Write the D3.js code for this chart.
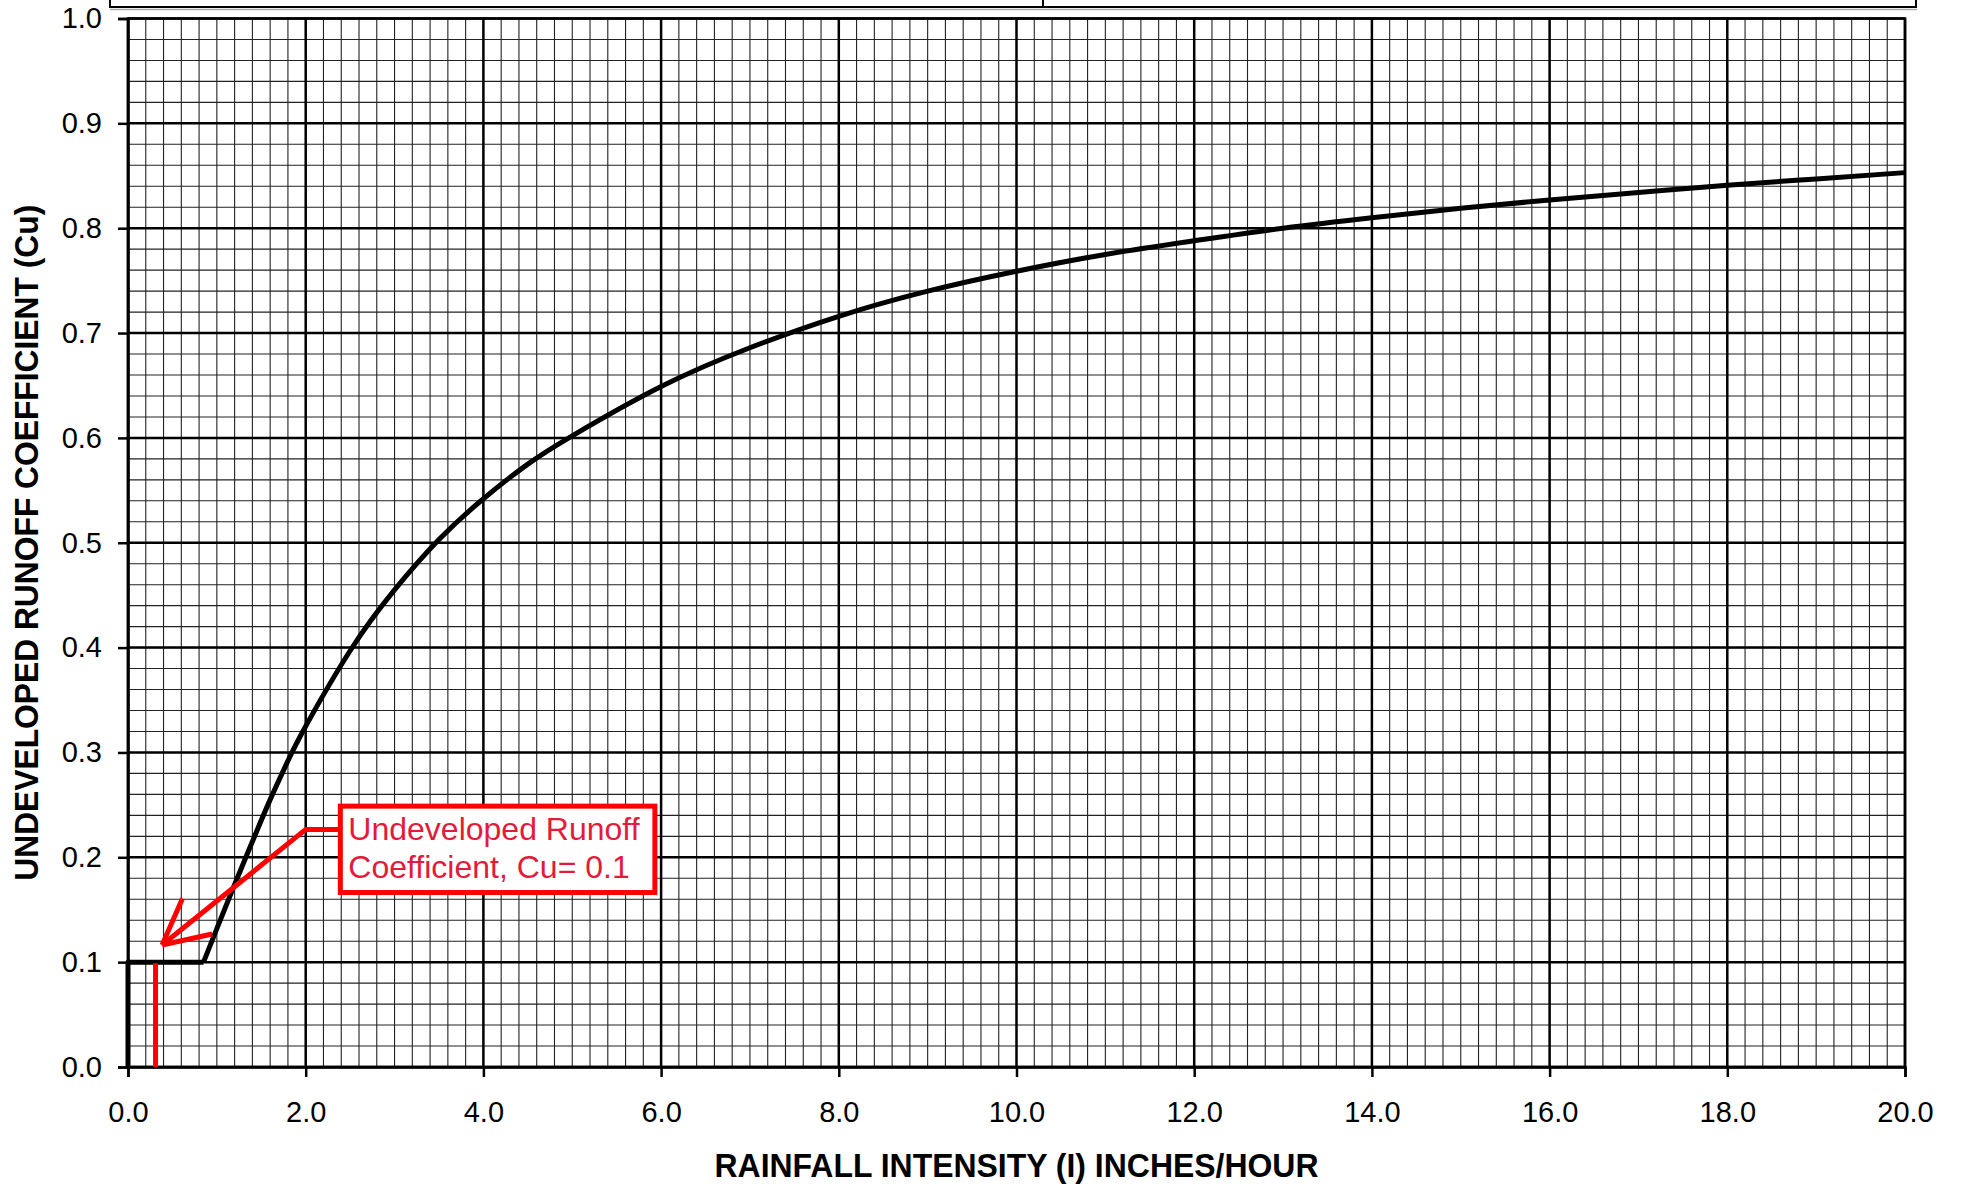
<!DOCTYPE html>
<html>
<head>
<meta charset="utf-8">
<script src="https://cdn.jsdelivr.net/npm/d3@7"></script>
<style>
  body { margin: 0; background: #fff; }
  svg { display: block; font-family: "Liberation Sans", Arial, sans-serif; }
</style>
</head>
<body>
<svg width="1961" height="1188"></svg>
<script>
// rainfall intensity (in/hr) vs undeveloped runoff coefficient
const intensity  = [0, 0, 0.85, 1.0, 1.2, 1.4, 1.6, 1.8, 2.0, 2.5, 3.0, 3.5, 4.0, 4.5, 5.0, 6.0, 7.0, 8.0, 9.0, 10.0, 11.0, 12.0, 13.0, 14.0, 15.0, 16.0, 17.0, 18.0, 19.0, 20.0];
const runoffCoef = [0, 0.1, 0.1, 0.132, 0.174, 0.215, 0.255, 0.292, 0.325, 0.397, 0.455, 0.503, 0.542, 0.575, 0.602, 0.649, 0.686, 0.716, 0.740, 0.759, 0.775, 0.788, 0.800, 0.810, 0.819, 0.827, 0.834, 0.841, 0.847, 0.853];

const xTicks = [0, 2, 4, 6, 8, 10, 12, 14, 16, 18, 20];
const xTickLabels = ["0.0", "2.0", "4.0", "6.0", "8.0", "10.0", "12.0", "14.0", "16.0", "18.0", "20.0"];
const yTicks = [0, 0.1, 0.2, 0.3, 0.4, 0.5, 0.6, 0.7, 0.8, 0.9, 1.0];
const yTickLabels = ["0.0", "0.1", "0.2", "0.3", "0.4", "0.5", "0.6", "0.7", "0.8", "0.9", "1.0"];

// callout (data units)
const calloutText = ["Undeveloped Runoff", "Coefficient, Cu= 0.1"];
const calloutBox = { x0: 2.39, x1: 5.93, y0: 0.1664, y1: 0.2488 };
const calloutLeader = [[2.39, 0.2266], [2.0, 0.2266], [0.384, 0.1163]];
const arrowBarbs = [[0.613, 0.1608], [0.947, 0.1268]];
const cuMarker = [[0.31, 0], [0.31, 0.099]];

var svg = d3.select("svg"),
    margin = { top: 18.5, right: 56, bottom: 121, left: 128 },
    width = 1961 - margin.left - margin.right,
    height = 1188 - margin.top - margin.bottom;

var x = d3.scaleLinear().domain([0, 20]).range([0, width]);
var y = d3.scaleLinear().domain([0, 1]).range([height, 0]);

// box cut off at the top of the sheet
var topBox = svg.append("g");
topBox.append("line").attr("x1", 110).attr("x2", 1917).attr("y1", 9.5).attr("y2", 9.5)
    .attr("stroke", "#aaa").attr("stroke-width", 1.5);
topBox.append("rect").attr("x", 110).attr("y", -20).attr("width", 1806).attr("height", 27)
    .attr("fill", "#fff").attr("stroke", "#000").attr("stroke-width", 2);
topBox.append("line").attr("x1", 1043).attr("x2", 1043).attr("y1", -20).attr("y2", 7)
    .attr("stroke", "#000").attr("stroke-width", 2);

var g = svg.append("g")
    .attr("transform", "translate(" + margin.left + "," + margin.top + ")");

// minor grid
g.append("g").selectAll("line")
    .data(d3.range(1, 100).map(i => i * 0.2))
    .enter().append("line")
    .attr("x1", d => x(d)).attr("x2", d => x(d))
    .attr("y1", 0).attr("y2", height)
    .attr("stroke", "#222").attr("stroke-width", 1.1);
g.append("g").selectAll("line")
    .data(d3.range(1, 50).map(i => i * 0.02))
    .enter().append("line")
    .attr("y1", d => y(d)).attr("y2", d => y(d))
    .attr("x1", 0).attr("x2", width)
    .attr("stroke", "#222").attr("stroke-width", 1.1);

// major grid
g.append("g").selectAll("line")
    .data(xTicks)
    .enter().append("line")
    .attr("x1", d => x(d)).attr("x2", d => x(d))
    .attr("y1", 0).attr("y2", height)
    .attr("stroke", "#000").attr("stroke-width", 2.5);
g.append("g").selectAll("line")
    .data(yTicks)
    .enter().append("line")
    .attr("y1", d => y(d)).attr("y2", d => y(d))
    .attr("x1", 0).attr("x2", width)
    .attr("stroke", "#000").attr("stroke-width", 2.5);

// axes
var xAxis = g.append("g")
    .attr("transform", "translate(0," + height + ")")
    .call(d3.axisBottom(x).tickValues(xTicks)
        .tickFormat((d, i) => xTickLabels[i]).tickSize(10).tickPadding(24));
var yAxis = g.append("g")
    .call(d3.axisLeft(y).tickValues(yTicks)
        .tickFormat((d, i) => yTickLabels[i]).tickSize(10).tickPadding(16));
[xAxis, yAxis].forEach(a => {
    a.select(".domain").attr("stroke-width", 2.5);
    a.selectAll(".tick line").attr("stroke-width", 2.5);
    a.selectAll("text").style("font-size", "29px").style("font-family", "Liberation Sans, Arial").attr("fill", "#000");
});

g.append("rect").attr("width", width).attr("height", height)
    .attr("fill", "none").attr("stroke", "#000").attr("stroke-width", 2.5);

// the curve: straight floor part, then smooth
var pts = intensity.map((d, i) => [d, runoffCoef[i]]);
var lin = d3.line().x(d => x(d[0])).y(d => y(d[1]));
var smooth = d3.line().x(d => x(d[0])).y(d => y(d[1])).curve(d3.curveNatural);
g.append("path").attr("d", lin(pts.slice(0, 3)))
    .attr("fill", "none").attr("stroke", "#000").attr("stroke-width", 5)
    .attr("stroke-linejoin", "round");
g.append("path").attr("d", smooth(pts.slice(2)))
    .attr("fill", "none").attr("stroke", "#000").attr("stroke-width", 5)
    .attr("stroke-linejoin", "round");

// red callout
var red = "#ff0000";
g.append("path").attr("d", lin(cuMarker))
    .attr("stroke", red).attr("stroke-width", 5).attr("fill", "none");
g.append("path").attr("d", lin(calloutLeader))
    .attr("stroke", red).attr("stroke-width", 5).attr("fill", "none");
var tip = calloutLeader[calloutLeader.length - 1];
arrowBarbs.forEach(b => {
    g.append("path").attr("d", lin([tip, b]))
        .attr("stroke", red).attr("stroke-width", 5).attr("fill", "none");
});
g.append("rect")
    .attr("x", x(calloutBox.x0)).attr("y", y(calloutBox.y1))
    .attr("width", x(calloutBox.x1) - x(calloutBox.x0))
    .attr("height", y(calloutBox.y0) - y(calloutBox.y1))
    .attr("fill", "#fff").attr("stroke", red).attr("stroke-width", 5);
g.append("g").selectAll("text")
    .data(calloutText)
    .enter().append("text")
    .attr("x", x(calloutBox.x0) + 8)
    .attr("y", (d, i) => y(calloutBox.y1) + 34 + i * 38)
    .text(d => d)
    .style("font-size", "32px")
    .attr("fill", "#e41a3a");

// axis titles
svg.append("text")
    .attr("x", margin.left + width / 2).attr("y", 1177)
    .attr("text-anchor", "middle")
    .attr("textLength", 604).attr("lengthAdjust", "spacingAndGlyphs")
    .style("font-size", "34px").style("font-weight", "bold")
    .text("RAINFALL INTENSITY (I) INCHES/HOUR");
svg.append("text")
    .attr("transform", "translate(38," + (margin.top + height / 2) + ") rotate(-90)")
    .attr("text-anchor", "middle")
    .attr("textLength", 676).attr("lengthAdjust", "spacingAndGlyphs")
    .style("font-size", "33px").style("font-weight", "bold")
    .text("UNDEVELOPED RUNOFF COEFFICIENT (Cu)");
</script>
</body>
</html>
